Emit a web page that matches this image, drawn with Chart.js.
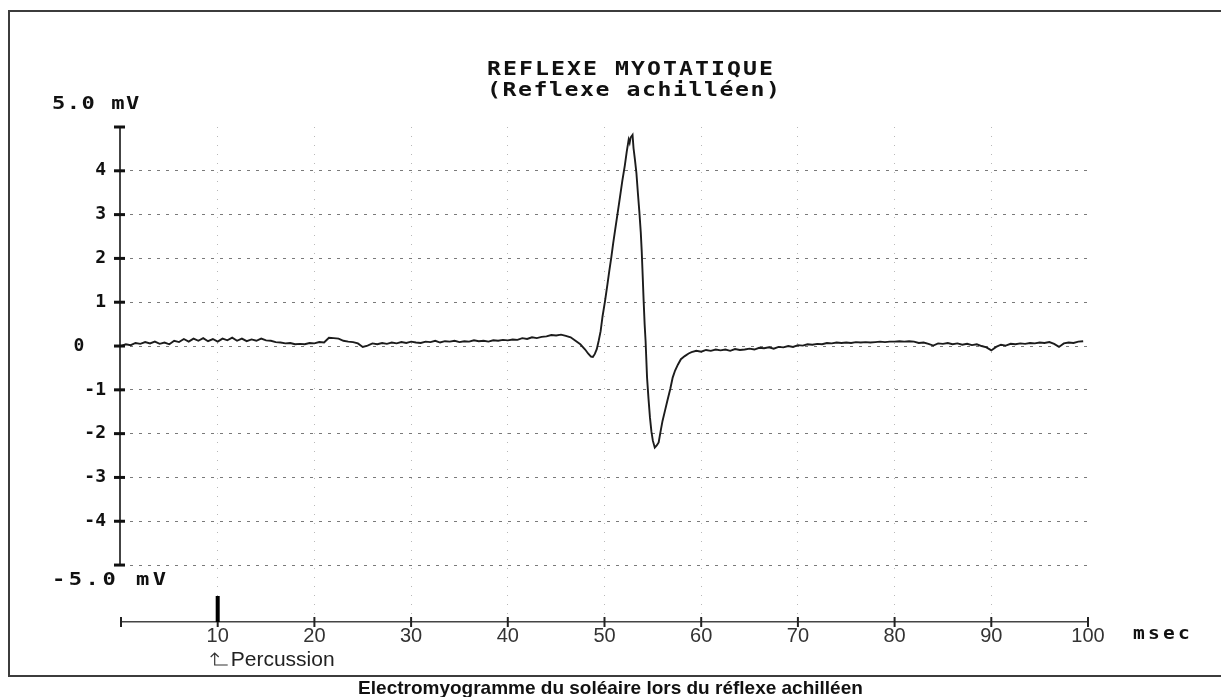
<!DOCTYPE html>
<html lang="fr">
<head>
<meta charset="utf-8">
<title>Réflexe myotatique</title>
<script src="https://cdn.jsdelivr.net/npm/chart.js@4.4.1/dist/chart.umd.min.js"></script>
<style>
  html, body { margin: 0; padding: 0; background: #fff; overflow: hidden; }
  #frame {
    position: absolute; left: 8px; top: 10px;
    width: 1216px; height: 663px;
    border: 2px solid #3c3c3c;
  }
  #wrap { position: absolute; left: 0; top: 0; width: 1221px; height: 697px; }
  #caption {
    position: absolute; left: 0; top: 677px; width: 1221px;
    text-align: center;
    font: bold 19px "Liberation Sans", Arial, sans-serif;
    color: #111;
  }
</style>
</head>
<body>
<div id="frame"></div>
<div id="wrap"><canvas id="emgChart" width="1221" height="697"></canvas></div>
<div id="caption">Electromyogramme du soléaire lors du réflexe achilléen</div>

<script>
// ------------------------------------------------
// EMG du soléaire — réflexe achilléen
// ------------------------------------------------

// axis ticks
const X_TICKS = [0, 10, 20, 30, 40, 50, 60, 70, 80, 90, 100];   // msec
const Y_TICKS = [5, 4, 3, 2, 1, 0, -1, -2, -3, -4, -5];          // mV
const PERCUSSION_MS = 10;

// trace, [msec, mV]
const preReflex = [
  [0.0, 0.00], [0.5, 0.04], [1.0, 0.02], [1.5, 0.07], [2.0, 0.05], [2.5, 0.09],
  [3.0, 0.06], [3.5, 0.10], [4.0, 0.05], [4.5, 0.08], [5.0, 0.04], [5.5, 0.12],
  [6.0, 0.09], [6.5, 0.16], [7.0, 0.10], [7.5, 0.17], [8.0, 0.12], [8.5, 0.18],
  [9.0, 0.11], [9.5, 0.16], [10.0, 0.10], [10.5, 0.17], [11.0, 0.13], [11.5, 0.19],
  [12.0, 0.12], [12.5, 0.17], [13.0, 0.11], [13.5, 0.15], [14.0, 0.12], [14.5, 0.17],
  [15.0, 0.13], [15.5, 0.12], [16.0, 0.09], [16.5, 0.08], [17.0, 0.06], [17.5, 0.07],
  [18.0, 0.04], [18.5, 0.05], [19.0, 0.04], [19.5, 0.07], [20.0, 0.06], [20.5, 0.09],
  [21.0, 0.08], [21.5, 0.19], [22.0, 0.18], [22.5, 0.17], [23.0, 0.12], [23.5, 0.10],
  [24.0, 0.09], [24.5, 0.06], [25.0, -0.02], [25.5, 0.01], [26.0, 0.06], [26.5, 0.04],
  [27.0, 0.07], [27.5, 0.05], [28.0, 0.08], [28.5, 0.06], [29.0, 0.09], [29.5, 0.07],
  [30.0, 0.10], [30.5, 0.08], [31.0, 0.07], [31.5, 0.10], [32.0, 0.09], [32.5, 0.12],
  [33.0, 0.08], [33.5, 0.11], [34.0, 0.10], [34.5, 0.12], [35.0, 0.09], [35.5, 0.11],
  [36.0, 0.10], [36.5, 0.13], [37.0, 0.11], [37.5, 0.12], [38.0, 0.10], [38.5, 0.13],
  [39.0, 0.12], [39.5, 0.14], [40.0, 0.13], [40.5, 0.15], [41.0, 0.14], [41.5, 0.18],
  [42.0, 0.16], [42.5, 0.20], [43.0, 0.18], [43.5, 0.21], [44.0, 0.22], [44.5, 0.25],
  [45.0, 0.24], [45.5, 0.26], [46.0, 0.23], [46.5, 0.20]
];

const reflexWave = [
  [47.0, 0.12], [47.5, 0.04], [48.0, -0.08], [48.3, -0.17], [48.6, -0.24], [48.8, -0.25],
  [49.0, -0.18], [49.2, -0.07], [49.4, 0.12], [49.6, 0.34], [49.8, 0.68], [50.05, 1.02],
  [50.3, 1.40], [50.5, 1.72], [50.7, 2.02], [50.9, 2.35], [51.1, 2.65], [51.35, 3.02],
  [51.6, 3.40], [51.85, 3.78], [52.1, 4.12], [52.3, 4.44], [52.5, 4.71], [52.6, 4.64],
  [52.7, 4.76], [52.9, 4.82], [53.0, 4.52], [53.15, 4.25], [53.3, 3.95], [53.45, 3.50],
  [53.6, 3.08], [53.75, 2.60], [53.85, 2.16], [53.95, 1.60], [54.05, 1.02], [54.15, 0.50],
  [54.25, 0.11], [54.4, -0.72], [54.55, -1.20], [54.7, -1.63], [54.85, -1.95], [55.0, -2.16],
  [55.2, -2.32], [55.4, -2.27], [55.6, -2.20], [55.8, -1.95], [56.0, -1.71], [56.25, -1.48],
  [56.5, -1.25], [56.8, -0.98], [57.05, -0.72], [57.3, -0.56], [57.6, -0.42], [57.9, -0.30],
  [58.3, -0.23], [58.7, -0.17]
];

const postReflex = [
  [59.0, -0.14], [59.5, -0.11], [60.0, -0.13], [60.5, -0.09], [61.0, -0.11], [61.5, -0.08],
  [62.0, -0.10], [62.5, -0.08], [63.0, -0.11], [63.5, -0.07], [64.0, -0.09], [64.5, -0.08],
  [65.0, -0.06], [65.5, -0.08], [66.0, -0.04], [66.5, -0.05], [67.0, -0.03], [67.5, -0.06],
  [68.0, -0.02], [68.5, -0.03], [69.0, 0.00], [69.5, -0.02], [70.0, 0.02], [70.5, 0.01],
  [71.0, 0.04], [71.5, 0.03], [72.0, 0.05], [72.5, 0.04], [73.0, 0.07], [73.5, 0.06],
  [74.0, 0.08], [74.5, 0.07], [75.0, 0.08], [75.5, 0.07], [76.0, 0.09], [76.5, 0.08],
  [77.0, 0.09], [77.5, 0.08], [78.0, 0.09], [78.5, 0.10], [79.0, 0.09], [79.5, 0.10],
  [80.0, 0.10], [80.5, 0.11], [81.0, 0.10], [81.5, 0.11], [82.0, 0.10], [82.5, 0.07],
  [83.0, 0.08], [83.5, 0.05], [84.0, 0.01], [84.5, 0.06], [85.0, 0.05], [85.5, 0.07],
  [86.0, 0.04], [86.5, 0.06], [87.0, 0.03], [87.5, 0.05], [88.0, 0.02], [88.5, 0.04],
  [89.0, 0.00], [89.5, -0.03], [90.0, -0.10], [90.5, -0.02], [91.0, 0.03], [91.5, 0.01],
  [92.0, 0.05], [92.5, 0.04], [93.0, 0.06], [93.5, 0.05], [94.0, 0.07], [94.5, 0.06],
  [95.0, 0.08], [95.5, 0.07], [96.0, 0.09], [96.5, 0.05], [97.0, -0.02], [97.5, 0.06],
  [98.0, 0.08], [98.5, 0.07], [99.0, 0.10], [99.5, 0.11]
];

const PRINT_FONT = '"DejaVu Sans Mono", "Liberation Mono", monospace';

// old plotter lettering: wide monospaced glyphs on a fixed pitch
function drawPrinted(ctx, text, left, cy, size, pitch, sx) {
  ctx.save();
  ctx.font = `bold ${size}px ${PRINT_FONT}`;
  ctx.letterSpacing = (pitch / sx - 0.602 * size).toFixed(2) + 'px';
  ctx.fillStyle = '#111';
  ctx.textAlign = 'left';
  ctx.textBaseline = 'middle';
  ctx.translate(left, cy);
  ctx.scale(sx, 1);
  ctx.fillText(text, 0, 0);
  ctx.restore();
}

const plotterExtras = {
  id: 'plotterExtras',
  afterDraw(chart) {
    const ctx = chart.ctx;
    const xs = chart.scales.x, ys = chart.scales.y;
    const area = chart.chartArea;
    const axisX = xs.getPixelForValue(0) - 1;
    const yTop = ys.getPixelForValue(Y_TICKS[0]);
    const yBot = ys.getPixelForValue(Y_TICKS[Y_TICKS.length - 1]);
    const axisY = area.bottom;

    ctx.save();
    // vertical mV axis, only from +5 to -5
    ctx.strokeStyle = '#444';
    ctx.lineWidth = 2;
    ctx.beginPath();
    ctx.moveTo(axisX, yTop);
    ctx.lineTo(axisX, yBot);
    ctx.stroke();

    // mV tick marks crossing the axis
    ctx.strokeStyle = '#111';
    ctx.lineWidth = 3;
    Y_TICKS.forEach(v => {
      const y = ys.getPixelForValue(v);
      ctx.beginPath();
      ctx.moveTo(axisX - 6, y);
      ctx.lineTo(axisX + 5, y);
      ctx.stroke();
    });

    // msec tick marks crossing the time axis
    ctx.strokeStyle = '#222';
    ctx.lineWidth = 2;
    X_TICKS.forEach(v => {
      const x = xs.getPixelForValue(v);
      ctx.beginPath();
      ctx.moveTo(x, axisY - 5);
      ctx.lineTo(x, axisY + 5);
      ctx.stroke();
    });

    // percussion marker
    const px = xs.getPixelForValue(PERCUSSION_MS);
    ctx.fillStyle = '#000';
    ctx.fillRect(px - 2, axisY - 26, 4, 26);

    // hooked arrow under the 10 ms label, then the word
    const ay = axisY + 43;
    ctx.strokeStyle = '#333';
    ctx.lineWidth = 1.2;
    ctx.beginPath();
    ctx.moveTo(px - 3, ay - 12);
    ctx.lineTo(px - 3, ay);
    ctx.lineTo(px + 10, ay);
    ctx.moveTo(px - 7, ay - 8);
    ctx.lineTo(px - 3, ay - 12);
    ctx.lineTo(px + 1, ay - 8);
    ctx.stroke();
    ctx.fillStyle = '#222';
    ctx.font = '21px "Liberation Sans", Arial, sans-serif';
    ctx.textAlign = 'left';
    ctx.textBaseline = 'alphabetic';
    ctx.fillText('Percussion', px + 13, ay + 1);
    ctx.restore();

    // plotter lettering
    drawPrinted(ctx, 'REFLEXE MYOTATIQUE', 487, 70, 19, 16, 1.22);
    drawPrinted(ctx, '(Reflexe achilléen)', 487, 91, 19, 15.5, 1.22);
    drawPrinted(ctx, '5.0 mV', 52, yTop - 22, 17, 14.8, 1.3);
    drawPrinted(ctx, '-5.0 mV', 52, yBot + 16, 17, 16.8, 1.3);
    drawPrinted(ctx, 'msec', area.right + 45, axisY + 13, 17, 15, 1.15);
  }
};

new Chart(document.getElementById('emgChart'), {
  type: 'line',
  data: {
    datasets: [{
      label: 'EMG soléaire',
      data: preReflex.concat(reflexWave, postReflex).map(([t, v]) => ({ x: t, y: v })),
      borderColor: '#1c1c1c',
      borderWidth: 1.9,
      pointRadius: 0,
      tension: 0,
      fill: false
    }]
  },
  options: {
    responsive: false,
    animation: false,
    events: [],
    layout: { padding: { left: 61, top: 127, right: 133, bottom: 45 } },
    plugins: { legend: { display: false }, tooltip: { enabled: false } },
    scales: {
      x: {
        type: 'linear',
        min: 0,
        max: 100,
        afterBuildTicks: s => { s.ticks = X_TICKS.map(v => ({ value: v })); },
        afterFit: s => { s.height = 30; },
        // in v4 border.dash also dashes the grid lines
        border: { display: true, color: '#444', width: 1.5, dash: [1, 8] },
        grid: {
          drawTicks: false,
          color: c => (c.tick && (c.tick.value === 0 || c.tick.value === 100)) ? 'rgba(0,0,0,0)' : 'rgba(0,0,0,0.28)',
          lineWidth: 1
        },
        ticks: {
          padding: 2,
          color: '#333',
          font: { family: '"Liberation Sans", Arial, sans-serif', size: 20 },
          callback: v => v === 0 ? '' : String(v),
          maxRotation: 0,
          autoSkip: false
        }
      },
      y: {
        type: 'linear',
        min: -6.3,
        max: 5,
        afterBuildTicks: s => { s.ticks = Y_TICKS.map(v => ({ value: v })); },
        afterFit: s => { s.width = 60; },
        border: { display: false, dash: [3, 6] },
        grid: {
          drawTicks: false,
          color: c => (c.tick && c.tick.value === 5) ? 'rgba(0,0,0,0)' : '#7a7a7a',
          lineWidth: 1
        },
        ticks: {
          padding: 15,
          color: '#111',
          font: { family: PRINT_FONT, size: 18, weight: 'bold' },
          callback: v => (v === 5 || v === -5) ? '' : (v === 0 ? '0  ' : String(v))
        }
      }
    }
  },
  plugins: [plotterExtras]
});
</script>
</body>
</html>
